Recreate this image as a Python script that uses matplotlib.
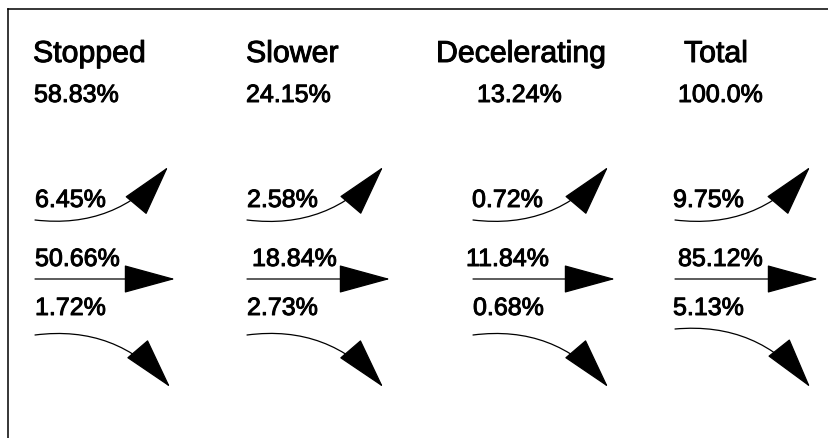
import matplotlib
matplotlib.use('Agg')
import matplotlib.pyplot as plt
import matplotlib.patheffects as pe
from matplotlib.patches import FancyArrowPatch, ArrowStyle

W, H = 829, 439

categories = ['Stopped', 'Slower', 'Decelerating', 'Total']
share = [58.83, 24.15, 13.24, 100.0]
up = [6.45, 2.58, 0.72, 9.75]
same = [50.66, 18.84, 11.84, 85.12]
down = [1.72, 2.73, 0.68, 5.13]

# layout in pixels (y from top)
head_x = [33, 246, 436, 684]
share_x = [34, 246, 477, 678]
up_lab_x = [35, 247, 472, 673]
same_lab_x = [35, 252, 466, 678]
down_lab_x = [35, 247, 473, 673]
start_x = [35, 247, 473, 675]
up_tip = [168, 383, 608, 810]
same_tip = [175, 390, 615, 818]
down_tip = [170, 383, 608, 810]
down_start_y = [336, 336, 336, 330]


def pct(v):
    return '{}%'.format(v)


fig = plt.figure(figsize=(W / 100, H / 100), dpi=100)
ax = fig.add_axes([8 / W, 0, (W - 8) / W, (H - 10) / H])
ax.set_xlim(8, W)
ax.set_ylim(H, 10)
ax.set_xticks([])
ax.set_yticks([])
ax.spines['right'].set_visible(False)
ax.spines['bottom'].set_visible(False)
for s in ['top', 'left']:
    ax.spines[s].set_linewidth(1.1)

# scanned original has slightly heavy strokes
heavy = [pe.withStroke(linewidth=0.7, foreground='black')]
font = dict(family='Liberation Sans', color='black', va='baseline', ha='left',
            path_effects=heavy)
style = ArrowStyle('-|>', head_length=34, head_width=9.3)

for i, name in enumerate(categories):
    ax.text(head_x[i], 63, name, fontsize=21.8, **font)
    ax.text(share_x[i], 103, pct(share[i]), fontsize=18, **font)
    ax.text(up_lab_x[i], 208, pct(up[i]), fontsize=18, **font)
    ax.text(same_lab_x[i], 267, pct(same[i]), fontsize=18, **font)
    ax.text(down_lab_x[i], 316, pct(down[i]), fontsize=18, **font)

    arrows = [
        ((start_x[i], 221), (up_tip[i], 168), 'arc3,rad=0.27'),
        ((start_x[i], 280), (same_tip[i], 280), 'arc3,rad=0'),
        ((start_x[i], down_start_y[i]), (down_tip[i], 388), 'arc3,rad=-0.27'),
    ]
    for a, b, conn in arrows:
        ax.add_patch(FancyArrowPatch(a, b, arrowstyle=style, connectionstyle=conn,
                                     mutation_scale=1, shrinkA=0, shrinkB=0,
                                     color='black', lw=0.9))

fig.savefig('out.png', dpi=100)
